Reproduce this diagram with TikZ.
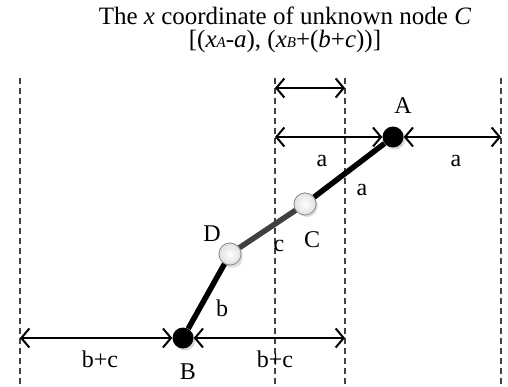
\documentclass[tikz,border=0pt]{standalone}
\usepackage{fontspec}
\setmainfont{Liberation Serif}
\usetikzlibrary{arrows.meta}
\begin{document}
\begin{tikzpicture}[x=1pt,y=-1pt,
  guide/.style={draw=black!75, line width=1.3pt, dash pattern=on 6pt off 4pt},
  dim/.style={line width=2pt, {Straight Barb[length=8pt,width=19pt,line width=2pt]}-{Straight Barb[length=8pt,width=19pt,line width=2pt]}},
  fixed/.style={circle, fill=black, inner sep=0pt, minimum size=21pt},
  free/.style={circle, draw=black!45, line width=0.7pt, inner color=white, outer color=black!12, inner sep=0pt, minimum size=22pt},
  link/.style={line width=5.5pt},
  lbl/.style={font=\fontsize{24}{26}\selectfont, inner sep=0pt}
]
\useasboundingbox (0,0) rectangle (508,387);
% title
\node[lbl, align=center, font=\fontsize{25}{27}\selectfont] (title) at (285,30) {The \textit{x} coordinate of unknown node \textit{C}\\[-4pt]
[(\textit{x}{\fontsize{15}{15}\selectfont\textit{A}}-\textit{a}), (\textit{x}{\fontsize{15}{15}\selectfont\textit{B}}+(\textit{b}+\textit{c}))]};
% guide lines
\foreach \n/\x in {g1/20, g2/275, g3/345, g4/501}{
  \coordinate (\n t) at (\x,78);
  \coordinate (\n b) at (\x,387);
  \draw[guide] (\n t) -- (\n b);
}
% nodes (with soft shadows)
\fill[black!15] (395,139) circle (10.5pt);
\fill[black!15] (185,340) circle (10.5pt);
\fill[black!12] (307,206) circle (11pt);
\fill[black!12] (232,257) circle (11pt);
\node[fixed] (A) at (393,137) {};
\node[fixed] (B) at (183,338) {};
\node[free] (C) at (305,204) {};
\node[free] (D) at (230,254) {};
% links
\draw[link] (A) -- (C);
\draw[link, black!75] (C) -- (D);
\draw[link] (D) -- (B);
% redraw free nodes above links
\node[free] at (C) {};
\node[free] at (D) {};
% dimension arrows
\coordinate (t1) at (275,88);
\coordinate (t2) at (345,88);
\draw[dim] (t1) -- (t2);
\coordinate (m1) at (275,137);
\coordinate (m2) at (501,137);
\draw[dim] (m1) -- (A.west);
\draw[dim] (A.east) -- (m2);
\coordinate (b1) at (20,338);
\coordinate (b2) at (345,338);
\draw[dim] (b1) -- (B.west);
\draw[dim] (B.east) -- (b2);
% labels
\node[lbl] (lA) at (403,106) {A};
\node[lbl] (lB) at (188,372) {B};
\node[lbl] (lC) at (312,240) {C};
\node[lbl] (lD) at (212,234) {D};
\node[lbl] (la1) at (322,161) {a};
\node[lbl] (la2) at (456,161) {a};
\node[lbl] (la3) at (362,190) {a};
\node[lbl] (lc) at (279,246) {c};
\node[lbl] (lb) at (222,308) {b};
\node[lbl] (lbc1) at (100,359) {b+c};
\node[lbl] (lbc2) at (275,359) {b+c};
\end{tikzpicture}
\end{document}
